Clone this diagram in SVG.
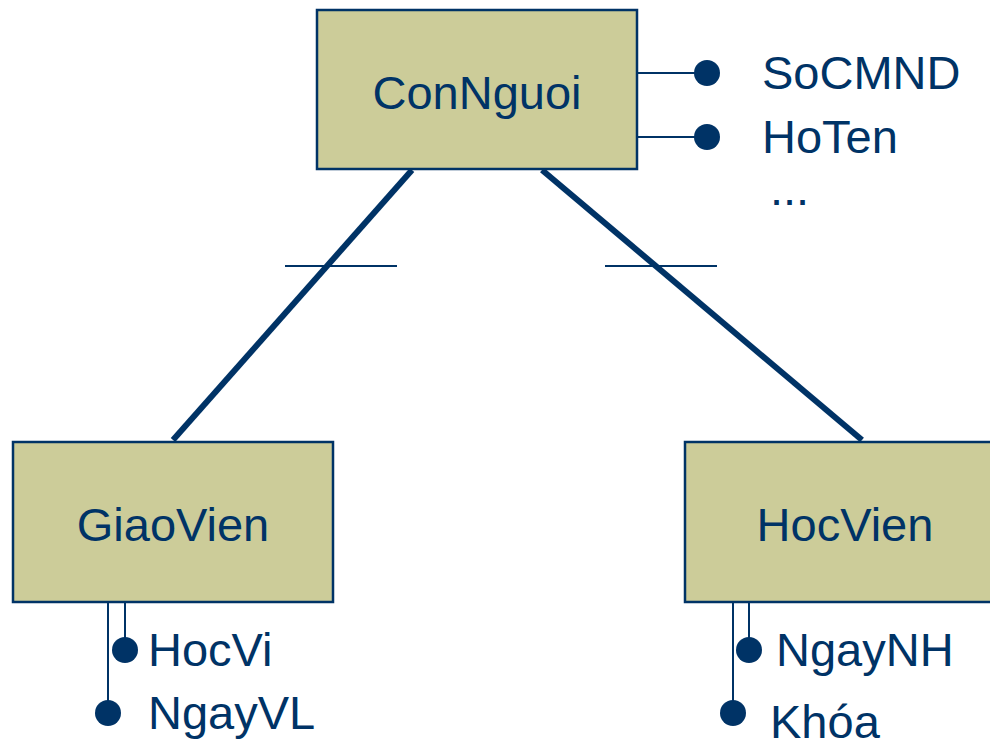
<svg xmlns="http://www.w3.org/2000/svg" width="990" height="741" viewBox="0 0 990 741">
<style>
.box{fill:#cccc99;stroke:#003366;stroke-width:2.5}
.t{font-family:"Liberation Sans",Arial,sans-serif;font-size:47px;fill:#003366}
.c{text-anchor:middle}
.thick{stroke:#003366;stroke-width:6;fill:none}
.thin{stroke:#003366;stroke-width:2;fill:none}
.dot{fill:#003366}
</style>
<rect width="990" height="741" fill="#ffffff"/>
<g id="connectors">
<line class="thick" x1="412" y1="170" x2="173" y2="440"/>
<line class="thick" x1="542" y1="170" x2="862" y2="440"/>
<line class="thin" x1="285" y1="266" x2="397" y2="266"/>
<line class="thin" x1="605" y1="266" x2="717" y2="266"/>
</g>
<g id="ConNguoi">
<rect class="box" x="317" y="10" width="320" height="159"/>
<text class="t c" x="477" y="109">ConNguoi</text>
</g>
<g id="GiaoVien">
<rect class="box" x="13" y="442" width="320" height="160"/>
<text class="t c" x="173" y="541">GiaoVien</text>
</g>
<g id="HocVien">
<rect class="box" x="685" y="442" width="320" height="160"/>
<text class="t c" x="845" y="541">HocVien</text>
</g>
<g id="attr-ConNguoi">
<line class="thin" x1="637" y1="73" x2="707" y2="73"/>
<line class="thin" x1="637" y1="137" x2="707" y2="137"/>
<circle class="dot" cx="707" cy="73" r="13"/>
<circle class="dot" cx="707" cy="137" r="13"/>
<text class="t" x="762" y="89">SoCMND</text>
<text class="t" x="762" y="153">HoTen</text>
<text class="t" x="770" y="205">...</text>
</g>
<g id="attr-GiaoVien">
<line class="thin" x1="108" y1="602" x2="108" y2="713"/>
<line class="thin" x1="125" y1="602" x2="125" y2="650"/>
<circle class="dot" cx="125" cy="650" r="13"/>
<circle class="dot" cx="108" cy="713" r="13"/>
<text class="t" x="148" y="666">HocVi</text>
<text class="t" x="148" y="729">NgayVL</text>
</g>
<g id="attr-HocVien">
<line class="thin" x1="733" y1="602" x2="733" y2="713"/>
<line class="thin" x1="749" y1="602" x2="749" y2="650"/>
<circle class="dot" cx="749" cy="650" r="13"/>
<circle class="dot" cx="733" cy="713" r="13"/>
<text class="t" x="776" y="666">NgayNH</text>
<text class="t" x="770" y="738">Khóa</text>
</g>
</svg>
